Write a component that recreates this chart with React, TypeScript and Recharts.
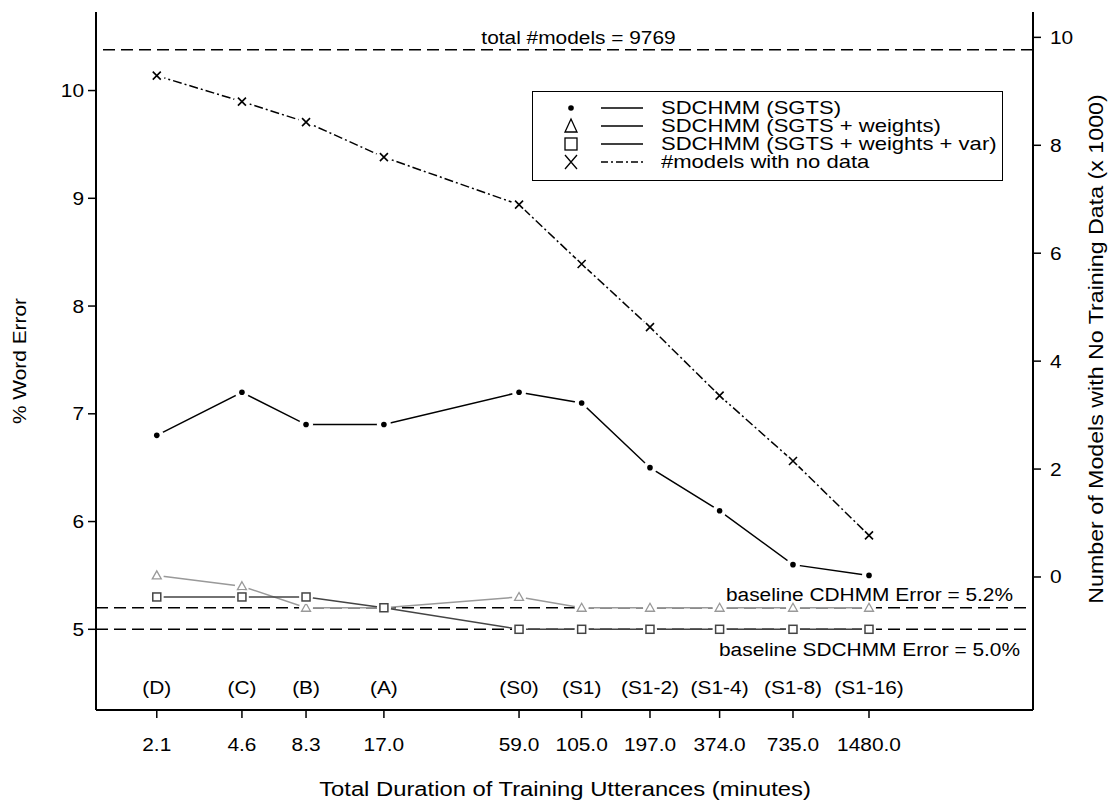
import {
  ComposedChart,
  Line,
  XAxis,
  YAxis,
  ReferenceLine,
  ReferenceArea,
} from "recharts";

const durations = [2.1, 4.6, 8.3, 17.0, 59.0, 105.0, 197.0, 374.0, 735.0, 1480.0];
const codes = ["(D)", "(C)", "(B)", "(A)", "(S0)", "(S1)", "(S1-2)", "(S1-4)", "(S1-8)", "(S1-16)"];
const sgts = [6.8, 7.2, 6.9, 6.9, 7.2, 7.1, 6.5, 6.1, 5.6, 5.5];
const sgtsWeights = [5.5, 5.4, 5.2, 5.2, 5.3, 5.2, 5.2, 5.2, 5.2, 5.2];
const sgtsWeightsVar = [5.3, 5.3, 5.3, 5.2, 5.0, 5.0, 5.0, 5.0, 5.0, 5.0];
// thousands of models
const noDataModels = [9.29, 8.81, 8.43, 7.78, 6.9, 5.8, 4.63, 3.36, 2.15, 0.77];
const totalModels = 9.769;
const baselineCD = 5.2;
const baselineSD = 5.0;
const leftTicks = [5, 6, 7, 8, 9, 10];
const rightTicks = [0, 2, 4, 6, 8, 10];

const data = durations.map((d, i) => ({
  dur: d,
  sgts: sgts[i],
  weights: sgtsWeights[i],
  weightsVar: sgtsWeightsVar[i],
  noData: noDataModels[i],
}));

const FONT = "'Liberation Sans', Arial, sans-serif";
const FS = 18;
const SX = 1.16; // glyphs in the original are a bit wide

// text that is stretched horizontally around its anchor point
const WideText = ({ x, y, anchor = "middle", children, size = FS }: any) => (
  <text
    transform={`translate(${x},${y}) scale(${SX},1)`}
    textAnchor={anchor}
    fontSize={size}
    fontFamily={FONT}
    fill="#000"
  >
    {children}
  </text>
);

const DotMark = ({ cx, cy }: any) => (
  <g>
    <circle cx={cx} cy={cy} r={7} fill="#fff" />
    <circle cx={cx} cy={cy} r={2.8} fill="#000" />
  </g>
);

const TriangleMark = ({ cx, cy }: any) => (
  <g>
    <circle cx={cx} cy={cy} r={7} fill="#fff" />
    <path
      d={`M${cx},${cy - 4.5} L${cx + 4.5},${cy + 3.5} L${cx - 4.5},${cy + 3.5} Z`}
      fill="#fff"
      stroke="#999"
      strokeWidth={1.3}
    />
  </g>
);

const SquareMark = ({ cx, cy }: any) => (
  <g>
    <circle cx={cx} cy={cy} r={7} fill="#fff" />
    <rect x={cx - 4} y={cy - 4} width={8} height={8} fill="#fff" stroke="#444" strokeWidth={1.5} />
  </g>
);

const CrossMark = ({ cx, cy }: any) => (
  <g>
    <circle cx={cx} cy={cy} r={8} fill="#fff" />
    <path
      d={`M${cx - 4},${cy - 4} L${cx + 4},${cy + 4} M${cx - 4},${cy + 4} L${cx + 4},${cy - 4}`}
      stroke="#000"
      strokeWidth={1.6}
    />
  </g>
);

const DurationTick = ({ x, y, payload, index }: any) => (
  <g>
    <WideText x={x} y={y + 31}>{Number(payload.value).toFixed(1)}</WideText>
    <WideText x={x} y={y - 26}>{codes[index]}</WideText>
  </g>
);

const LeftTick = ({ x, y, payload }: any) => (
  <WideText x={x} y={y + 6.5} anchor="end">{payload.value}</WideText>
);

const RightTick = ({ x, y, payload }: any) => (
  <WideText x={x} y={y + 6.5} anchor="start">{payload.value}</WideText>
);

const legendRows = [
  { label: "SDCHMM (SGTS)", marker: "dot", dash: undefined },
  { label: "SDCHMM (SGTS + weights)", marker: "tri", dash: undefined },
  { label: "SDCHMM (SGTS + weights + var)", marker: "sq", dash: undefined },
  { label: "#models with no data", marker: "x", dash: "7 3 2 3" },
];

function LegendMarker({ kind }: { kind: string }) {
  if (kind === "dot") return <circle cx={8} cy={9} r={2.8} fill="#000" />;
  if (kind === "tri") return <path d="M8,2 L14,15 L2,15 Z" fill="none" stroke="#000" strokeWidth={1.3} />;
  if (kind === "sq") return <rect x={2} y={3} width={12} height={12} fill="none" stroke="#000" strokeWidth={1.3} />;
  return <path d="M2,2 L14,16 M2,16 L14,2" stroke="#000" strokeWidth={1.3} />;
}

const titleStyle: any = {
  position: "absolute",
  whiteSpace: "nowrap",
  fontSize: 20,
  lineHeight: "20px",
};

export default function App() {
  return (
    <div style={{ position: "absolute", left: 0, top: 0, width: 1109, height: 800, background: "#fff", fontFamily: FONT }}>
      <ComposedChart
        width={1109}
        height={800}
        data={data}
        margin={{ top: 12, right: 26, bottom: 30, left: 36 }}
      >
        <XAxis
          dataKey="dur"
          type="number"
          scale="log"
          domain={[1.2, 6700]}
          ticks={durations}
          allowDataOverflow
          height={60}
          interval={0}
          axisLine={{ stroke: "#000", strokeWidth: 2 }}
          tickLine={{ stroke: "#000", strokeWidth: 1.5 }}
          tickSize={8}
          tickMargin={2}
          tick={<DurationTick />}
        />
        <YAxis
          yAxisId="left"
          type="number"
          domain={[4.251, 10.729]}
          ticks={leftTicks}
          allowDataOverflow
          width={60}
          axisLine={{ stroke: "#000", strokeWidth: 2 }}
          tickLine={{ stroke: "#000", strokeWidth: 1.5 }}
          tickSize={8}
          tickMargin={4}
          tick={<LeftTick />}
        />
        <YAxis
          yAxisId="right"
          orientation="right"
          type="number"
          domain={[-2.465, 10.47]}
          ticks={rightTicks}
          allowDataOverflow
          width={50}
          axisLine={{ stroke: "#000", strokeWidth: 2 }}
          tickLine={{ stroke: "#000", strokeWidth: 1.5 }}
          tickSize={8}
          tickMargin={9}
          tick={<RightTick />}
        />
        <ReferenceArea yAxisId="left" fill="none" stroke="#000" strokeWidth={2} ifOverflow="visible" />
        <ReferenceLine
          yAxisId="right"
          y={totalModels}
          stroke="#000"
          strokeWidth={1.5}
          strokeDasharray="12 6"
          label={(p: any) => (
            <WideText x={p.viewBox.x + p.viewBox.width / 2 + 14} y={p.viewBox.y - 6}>
              total #models = 9769
            </WideText>
          )}
        />
        <ReferenceLine
          yAxisId="left"
          y={baselineCD}
          stroke="#000"
          strokeWidth={1.5}
          strokeDasharray="12 6"
          label={(p: any) => (
            <WideText x={p.viewBox.x + p.viewBox.width - 20} y={p.viewBox.y - 7} anchor="end">
              baseline CDHMM Error = 5.2%
            </WideText>
          )}
        />
        <ReferenceLine
          yAxisId="left"
          y={baselineSD}
          stroke="#000"
          strokeWidth={1.5}
          strokeDasharray="12 6"
          label={(p: any) => (
            <WideText x={p.viewBox.x + p.viewBox.width - 13} y={p.viewBox.y + 27} anchor="end">
              baseline SDCHMM Error = 5.0%
            </WideText>
          )}
        />
        <Line
          yAxisId="right"
          dataKey="noData"
          stroke="#000"
          strokeWidth={1.5}
          strokeDasharray="9 3 2 3"
          dot={<CrossMark />}
          activeDot={false}
          isAnimationActive={false}
        />
        <Line
          yAxisId="left"
          dataKey="sgts"
          stroke="#000"
          strokeWidth={1.5}
          dot={<DotMark />}
          activeDot={false}
          isAnimationActive={false}
        />
        <Line
          yAxisId="left"
          dataKey="weights"
          stroke="#999"
          strokeWidth={1.5}
          dot={<TriangleMark />}
          activeDot={false}
          isAnimationActive={false}
        />
        <Line
          yAxisId="left"
          dataKey="weightsVar"
          stroke="#444"
          strokeWidth={1.5}
          dot={<SquareMark />}
          activeDot={false}
          isAnimationActive={false}
        />
      </ComposedChart>

      <div style={{ ...titleStyle, left: 20, top: 361, fontSize: 18, transform: `translate(-50%, -50%) rotate(-90deg) scaleX(${SX})` }}>
        % Word Error
      </div>
      <div style={{ ...titleStyle, left: 1096, top: 349, transform: `translate(-50%, -50%) rotate(-90deg) scaleX(${SX})` }}>
        Number of Models with No Training Data (x 1000)
      </div>
      <div style={{ ...titleStyle, left: 565, top: 789, transform: `translate(-50%, -50%) scaleX(${SX})`, fontSize: 20.5 }}>
        Total Duration of Training Utterances (minutes)
      </div>

      <div
        style={{
          position: "absolute",
          left: 532,
          top: 91,
          width: 469,
          height: 88,
          border: "1.5px solid #000",
          background: "#fff",
        }}
      >
        {legendRows.map((r, i) => (
          <div
            key={r.label}
            style={{ position: "absolute", left: 30, top: 7 + i * 18, height: 18, display: "flex", alignItems: "center" }}
          >
            <svg width={16} height={18}>
              <LegendMarker kind={r.marker} />
            </svg>
            <svg width={42} height={18} style={{ marginLeft: 22 }}>
              <line x1={0} y1={9} x2={42} y2={9} stroke="#000" strokeWidth={1.5} strokeDasharray={r.dash} />
            </svg>
            <span
              style={{
                marginLeft: 18,
                fontSize: 19,
                lineHeight: "18px",
                whiteSpace: "nowrap",
                display: "inline-block",
                transform: `scaleX(${SX})`,
                transformOrigin: "left center",
              }}
            >
              {r.label}
            </span>
          </div>
        ))}
      </div>
    </div>
  );
}
